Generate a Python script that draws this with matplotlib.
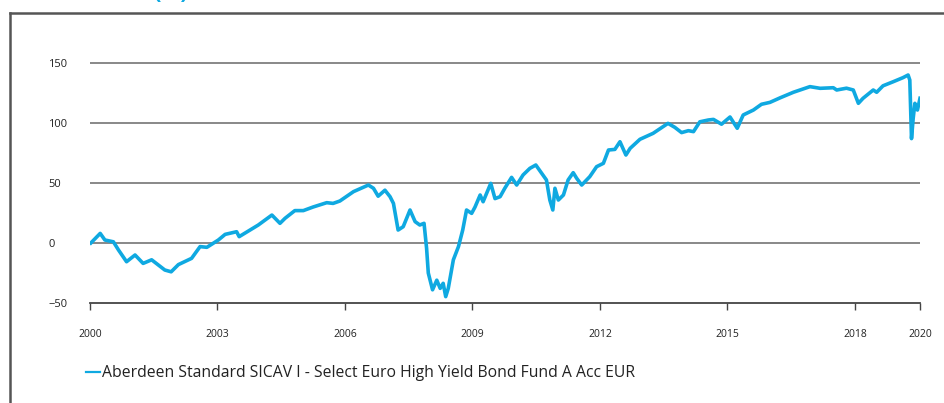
import matplotlib
matplotlib.use('Agg')
import matplotlib.pyplot as plt
from matplotlib.lines import Line2D

plt.rcParams['font.family'] = ['Open Sans', 'DejaVu Sans']

# cumulative performance (%), x in chart years
years = [2000.02, 2000.24, 2000.35, 2000.55, 2000.67, 2000.86, 2001.06, 2001.25,
         2001.45, 2001.76, 2001.91, 2002.08, 2002.39, 2002.59, 2002.75, 2003.02,
         2003.18, 2003.45, 2003.51, 2003.96, 2004.28, 2004.47, 2004.59, 2004.82,
         2005.02, 2005.25, 2005.57, 2005.72, 2005.88, 2006.20, 2006.55, 2006.67,
         2006.78, 2006.94, 2007.06, 2007.14, 2007.25, 2007.37, 2007.53, 2007.65,
         2007.76, 2007.86, 2007.92, 2007.96, 2008.06, 2008.16, 2008.24, 2008.31,
         2008.37, 2008.43, 2008.55, 2008.67, 2008.77, 2008.86, 2008.98, 2009.06,
         2009.18, 2009.25, 2009.43, 2009.53, 2009.65, 2009.76, 2009.92, 2010.04,
         2010.19, 2010.35, 2010.49, 2010.63, 2010.74, 2010.82, 2010.89, 2010.94,
         2011.02, 2011.14, 2011.25, 2011.37, 2011.45, 2011.57, 2011.76, 2011.92,
         2012.08, 2012.20, 2012.35, 2012.47, 2012.61, 2012.71, 2012.94, 2013.25,
         2013.60, 2013.76, 2013.92, 2014.08, 2014.20, 2014.35, 2014.55, 2014.67,
         2014.86, 2015.06, 2015.23, 2015.37, 2015.61, 2015.80, 2016.00, 2016.24,
         2016.55, 2016.94, 2017.18, 2017.49, 2017.57, 2017.80, 2017.96, 2018.08,
         2018.19, 2018.43, 2018.51, 2018.66, 2018.90, 2019.13, 2019.25, 2019.29,
         2019.33, 2019.37, 2019.41, 2019.47, 2019.53]
perf = [0, 8, 2.5, 1, -5.8, -15.6, -10, -17,
        -14, -22.5, -24, -18, -12.8, -3, -3.6, 2.5,
        7.2, 9.4, 5.3, 15, 23.3, 16.4, 20.6, 27,
        27, 30, 33.6, 33, 35, 42.8, 48.3, 45.6,
        39, 44, 38.6, 33, 10.8, 13.6, 27.5, 17.8,
        15, 16.4, -4.4, -25, -39, -31, -37.8, -33.6,
        -44.7, -37.8, -14, -3, 10.8, 27.5, 24.7, 30,
        40, 34.4, 49.7, 37, 38.6, 45.6, 54.7, 48.3,
        56.7, 62.2, 65, 58, 52.5, 35.8, 27.5, 45.6,
        35.8, 40, 52.5, 58.6, 54, 48.3, 55.3, 63.6,
        66.4, 77.5, 78, 84.4, 73.3, 78.9, 86.4, 91.4,
        99.7, 96.4, 92, 93.6, 92.8, 101, 102.5, 103,
        99, 105, 95.6, 106.7, 110.8, 115.6, 117.2, 121,
        125.6, 130.3, 128.9, 129.4, 127.5, 129, 127.5, 116.4,
        120.6, 127.5, 125.6, 131, 134.4, 137.8, 140, 135.8,
        87, 104, 116.4, 110.8, 120.6]

xtick_pos = [2000, 2003, 2006, 2009, 2012, 2015, 2018, 2019.53]
xtick_labels = ['2000', '2003', '2006', '2009', '2012', '2015', '2018', '2020']
ytick_pos = [-50, 0, 50, 100, 150]

series_name = 'Aberdeen Standard SICAV I - Select Euro High Yield Bond Fund A Acc EUR'
blue = '#0fa9e1'

fig = plt.figure(figsize=(9.44, 4.03), dpi=100)
ax = fig.add_axes([90 / 944, 1 - 303 / 403, 830 / 944, 246 / 403])

ax.plot(years, perf, color=blue, lw=2.6, solid_joinstyle='round', label=series_name)

ax.set_xlim(2000, 2019.53)
ax.set_ylim(-50, 155)
ax.set_xticks(xtick_pos)
ax.set_xticklabels(xtick_labels)
ax.set_yticks(ytick_pos)
for v in ytick_pos[1:]:
    ax.axhline(v, color='#7f7f7f', lw=1.3, zorder=0)

for s in ['top', 'right', 'left']:
    ax.spines[s].set_visible(False)
ax.spines['bottom'].set_color('#444444')
ax.spines['bottom'].set_linewidth(1.3)
ax.tick_params(axis='x', direction='out', length=5, width=1, color='#444444',
               labelsize=7.5, labelcolor='#222222', pad=14)
ax.tick_params(axis='y', length=0, labelsize=8, labelcolor='#222222', pad=30)
for t in ax.get_yticklabels():
    t.set_horizontalalignment('left')

leg = ax.legend(loc='upper left', bbox_to_anchor=(86 / 944, 1 - 365 / 403),
                bbox_transform=fig.transFigure, frameon=False, fontsize=11.3,
                handlelength=0.9, handletextpad=0.15, borderaxespad=0,
                borderpad=0)
leg.get_lines()[0].set_linewidth(1.6)
for t in leg.get_texts():
    t.set_color('#222222')

# frame edges of the surrounding panel
fig.add_artist(Line2D([10 / 944, 10 / 944], [0, 1 - 13 / 403],
                      transform=fig.transFigure, color='#555555', lw=1.8))
fig.add_artist(Line2D([10 / 944, 1], [1 - 13 / 403, 1 - 13 / 403],
                      transform=fig.transFigure, color='#555555', lw=1.8))

# title cut off at the top edge
fig.text(153 / 944, 1 + 1.5 / 403, '(%)', color=blue, fontsize=16, fontweight='bold',
         va='baseline')

fig.savefig('out.png', dpi=100)
